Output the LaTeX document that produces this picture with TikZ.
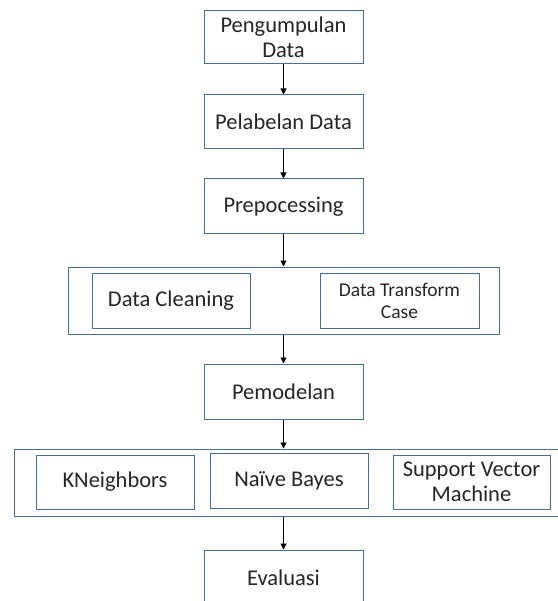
\documentclass[tikz,border=0pt]{standalone}
\usepackage{fontspec}
\setmainfont{Carlito}
\usetikzlibrary{arrows.meta}
\definecolor{boxline}{HTML}{41719C}
\definecolor{ink}{HTML}{262626}
\tikzset{
  box/.style={draw=boxline, line width=1pt, rectangle, inner sep=0pt,
    align=center, text=ink, font=\fontsize{22.5}{25.5}\selectfont},
  smallbox/.style={box, font=\fontsize{19.5}{22}\selectfont},
  flow/.style={draw=black, line width=0.9pt,
    -{Triangle[width=6pt,length=6pt]}}
}
\begin{document}
\begin{tikzpicture}[x=1pt,y=-1pt]
\useasboundingbox (0,0) rectangle (557,601);
\fill[white] (0,0) rectangle (557,601);

% main pipeline
\node[box, minimum width=159pt, minimum height=53pt] (p1) at (283.5,37.5) {Pengumpulan\\Data};
\node[box, minimum width=159pt, minimum height=54pt] (p2) at (283.5,122) {Pelabelan Data};
\node[box, minimum width=159pt, minimum height=55pt] (p3) at (283.5,206.5) {Prepocessing};

% preprocessing steps
\node[box, minimum width=431pt, minimum height=67pt] (c1) at (283.5,300.5) {};
\node[box, minimum width=158pt, minimum height=55pt] (dc) at (171,300.5) {Data Cleaning};
\node[smallbox, minimum width=159pt, minimum height=55pt] (dt) at (399.5,300.5) {Data Transform\\Case};

\node[box, minimum width=159pt, minimum height=55pt] (p4) at (283.5,391.5) {Pemodelan};

% models
\node[box, minimum width=566pt, minimum height=67pt] (c2) at (297,482.5) {};
\node[box, minimum width=158pt, minimum height=54pt] (kn) at (115,482) {KNeighbors};
\node[box, minimum width=158pt, minimum height=55pt] (nb) at (289,480.5) {Naïve Bayes};
\node[box, minimum width=157pt, minimum height=54pt] (sv) at (471.5,482) {Support Vector\\Machine};

\node[box, minimum width=159pt, minimum height=56pt] (ev) at (283.5,578) {Evaluasi};

% connectors
\draw[flow] (p1) -- (p2);
\draw[flow] (p2) -- (p3);
\draw[flow] (p3) -- (c1);
\draw[flow] (c1) -- (p4);
\draw[flow] (p4.south) -- (p4.south |- c2.north);
\draw[flow] (ev.north |- c2.south) -- (ev.north);
\end{tikzpicture}
\end{document}
